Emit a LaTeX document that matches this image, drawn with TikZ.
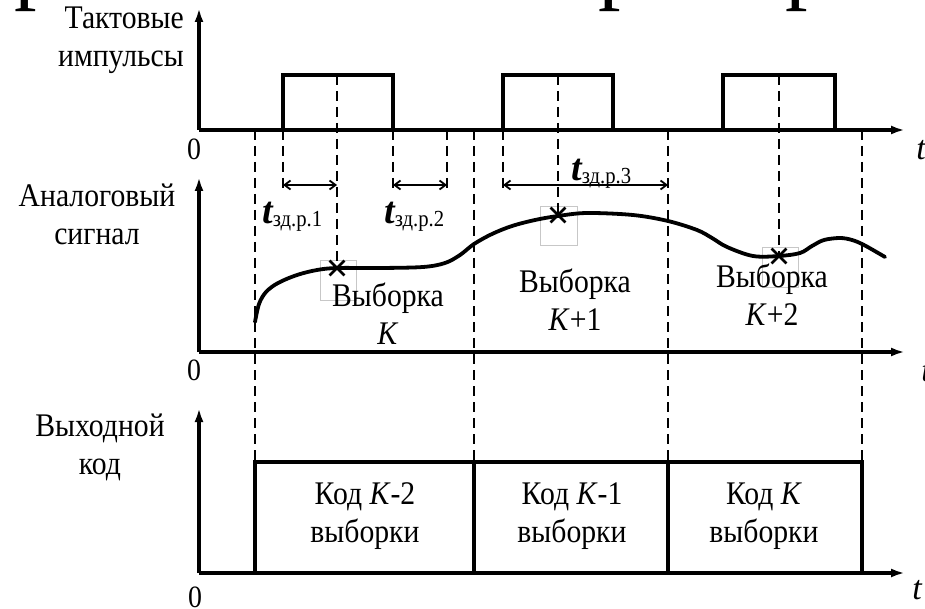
\documentclass[tikz,border=0pt]{standalone}
\usepackage{fontspec}
\setmainfont{Liberation Serif}
\newfontfamily\tallserif[FakeStretch=0.9]{Liberation Serif}
\usetikzlibrary{arrows.meta,shapes.misc}
\tikzset{
  axisline/.style={line width=4.5pt,-{Latex[length=14pt,width=9pt]}},
  pulseline/.style={line width=3.8pt,line join=miter},
  guide/.style={line width=2.6pt,dash pattern=on 10pt off 6pt},
  dimarrow/.style={line width=1.8pt,{Straight Barb[length=6pt,width=9pt]}-{Straight Barb[length=6pt,width=9pt]}},
  signal/.style={line width=3.8pt,line cap=round},
  codeline/.style={line width=3.6pt},
  xmark/.style={cross out,draw,line width=2.8pt,minimum size=12pt,inner sep=0pt},
  faintbox/.style={draw=black!22,line width=0.7pt},
  lbl/.style={font=\tallserif\fontsize{33}{38}\selectfont,inner sep=0pt},
  zero/.style={font=\tallserif\fontsize{31}{31}\selectfont,inner sep=0pt},
  tlbl/.style={font=\fontsize{34}{34}\selectfont\itshape,inner sep=0pt},
  bigglyph/.style={font=\fontsize{90}{90}\selectfont,inner sep=0pt,anchor=base west}
}
\newcommand{\tdel}[1]{{\fontsize{38}{38}\selectfont\bfseries\itshape t}\raisebox{-3pt}{\tallserif\fontsize{23}{23}\selectfont зд.р.#1}}
\begin{document}
\begin{tikzpicture}[x=1pt,y=-1pt]
\useasboundingbox (0,0) rectangle (925,609);
\clip (0,0) rectangle (925,609);
\fill[white] (0,0) rectangle (925,609);

% cut-off title glyphs at the top edge
\node[bigglyph] (g1) at (14,-7) {р};
\node[bigglyph] (g2) at (598,-7) {р};
\node[bigglyph] (g3) at (785,-7) {р};

% axes
\coordinate (O1) at (199,130); \coordinate (Y1) at (199,8);   \coordinate (X1) at (905,130);
\coordinate (O2) at (199,352); \coordinate (Y2) at (199,177); \coordinate (X2) at (905,352);
\coordinate (O3) at (199,573); \coordinate (Y3) at (199,408); \coordinate (X3) at (905,573);
\draw[axisline] (O1) -- (Y1);
\draw[axisline] (O1) -- (X1);
\draw[axisline] (O2) -- (Y2);
\draw[axisline] (O2) -- (X2);
\draw[axisline] (O3) -- (Y3);
\draw[axisline] (O3) -- (X3);

% axis labels
\node[lbl,align=right,anchor=east] (clk) at (184,40) {Тактовые\\импульсы};
\node[lbl,align=center] (ana) at (97,214) {Аналоговый\\сигнал};
\node[lbl,align=center] (out) at (100,447) {Выходной\\код};
\node[zero] (z1) at (194,149) {0};
\node[zero] (z2) at (194,370) {0};
\node[zero] (z3) at (195,597) {0};
\node[tlbl] (t1) at (921,150) {t};
\node[tlbl] (t2) at (926,372) {t};
\node[tlbl] (t3) at (917,590) {t};

% clock pulses
\coordinate (p1a) at (283,130); \coordinate (p1b) at (393,75);
\coordinate (p2a) at (503,130); \coordinate (p2b) at (613,75);
\coordinate (p3a) at (723,130); \coordinate (p3b) at (835,75);
\draw[pulseline] (p1a) |- (p1b) -- (393,130);
\draw[pulseline] (p2a) |- (p2b) -- (613,130);
\draw[pulseline] (p3a) |- (p3b) -- (835,130);

% sample marks
\draw[faintbox] (320,260) rectangle (356,300);
\draw[faintbox] (540,206) rectangle (577,245);
\draw[faintbox] (762,247) rectangle (798,287);
\node[xmark] (s1) at (337,268) {};
\node[xmark] (s2) at (558,215) {};
\node[xmark] (s3) at (779,256) {};

% dashed guide lines
\draw[guide] (255,130) -- (255,462);
\draw[guide] (474,130) -- (474,462);
\draw[guide] (668,130) -- (668,462);
\draw[guide] (862,130) -- (862,462);
\draw[guide] (283,130) -- (283,190);
\draw[guide] (393,130) -- (393,190);
\draw[guide] (447,130) -- (447,190);
\draw[guide] (503,130) -- (503,190);
\draw[guide] (337,75) -- (s1.center);
\draw[guide] (558,75) -- (s2.center);
\draw[guide] (779,75) -- (s3.center);

% delay dimension arrows
\coordinate (d1a) at (283,185); \coordinate (d1b) at (337,185);
\coordinate (d2a) at (393,185); \coordinate (d2b) at (447,185);
\coordinate (d3a) at (503,185); \coordinate (d3b) at (668,185);
\draw[dimarrow] (d1a) -- (d1b);
\draw[dimarrow] (d2a) -- (d2b);
\draw[dimarrow] (d3a) -- (d3b);
\node[inner sep=0pt,anchor=base west] (td1) at (262,224) {\tdel{1}};
\node[inner sep=0pt,anchor=base west] (td2) at (384,224) {\tdel{2}};
\node[inner sep=0pt,anchor=base west] (td3) at (571,181) {\tdel{3}};

% analog signal
\draw[signal] plot[smooth,tension=0.55] coordinates {
 (255,322) (259,304) (266,292) (278,283) (297,275) (317,270) (337,268)
 (380,268) (423,267) (445,263) (460,255) (474,244) (492,234) (512,226)
 (535,220) (558,216) (587,213) (633,215) (668,221) (697,230) (712,238)
 (727,247) (753,256) (779,256) (800,253) (812,246) (824,240) (840,238)
 (852,240) (864,245) (885,257)};

\node[lbl,align=center] (v1) at (388,314) {Выборка\\\textit{K}};
\node[lbl,align=center] (v2) at (575,300) {Выборка\\\textit{K}+1};
\node[lbl,align=center] (v3) at (772,295) {Выборка\\\textit{K}+2};

% output code boxes
\draw[codeline] (255,573) |- (862,462) -- (862,573);
\draw[codeline] (474,462) -- (474,573);
\draw[codeline] (668,462) -- (668,573);
\node[lbl,align=center] (c1) at (365,516) {Код \textit{K}-2\\выборки};
\node[lbl,align=center] (c2) at (572,516) {Код \textit{K}-1\\выборки};
\node[lbl,align=center] (c3) at (764,516) {Код \textit{K}\\выборки};
\end{tikzpicture}
\end{document}
